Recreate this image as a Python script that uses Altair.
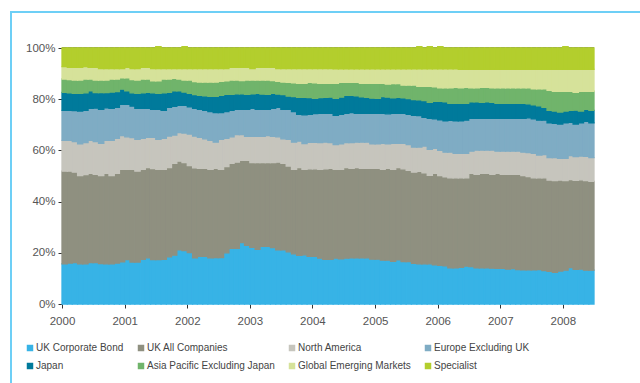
import altair as alt
import pandas as pd

series = ["UK Corporate Bond", "UK All Companies", "North America", "Europe Excluding UK",
          "Japan", "Asia Pacific Excluding Japan", "Global Emerging Markets", "Specialist"]
colors = ["#37B3E6", "#8F9080", "#C6C5BD", "#7FACC4", "#007A9B", "#70B46B", "#D6E29A", "#B3CE2D"]

# cumulative top edge (%) of each band, monthly Jan 2000 - Jun 2008
bond_top = [15.7, 16.0, 16.2, 15.7, 15.7, 16.2, 16.2, 15.8, 15.7, 15.7,
            16.0, 16.5, 17.3, 16.4, 16.4, 17.4, 18.0, 17.3, 17.3, 17.4,
            18.4, 19.1, 21.2, 20.9, 20.1, 18.0, 18.6, 18.6, 18.0, 18.1,
            18.1, 20.0, 21.7, 21.7, 24.0, 22.9, 22.1, 21.3, 22.5, 22.5,
            22.0, 21.2, 21.2, 20.4, 19.6, 19.0, 19.2, 18.6, 18.6, 17.9,
            17.4, 17.4, 17.9, 17.6, 17.9, 18.0, 18.0, 18.0, 18.0, 17.5,
            17.5, 17.1, 17.1, 16.7, 17.2, 16.6, 16.6, 15.9, 15.7, 15.7,
            15.7, 15.3, 15.1, 14.9, 14.1, 14.1, 14.3, 14.8, 14.6, 14.1,
            14.1, 14.1, 14.0, 13.9, 13.9, 13.6, 13.8, 13.4, 13.3, 13.3,
            13.3, 13.4, 13.0, 12.8, 12.4, 12.9, 13.2, 14.2, 13.5, 13.6,
            13.2, 13.2]
ukall_top = [51.9, 51.9, 51.5, 50.2, 50.5, 51.0, 50.6, 50.2, 51.0, 50.2,
             51.0, 52.6, 52.6, 52.6, 51.9, 52.6, 53.3, 52.9, 52.6, 52.6,
             53.3, 54.9, 55.8, 55.2, 54.1, 53.2, 53.0, 53.0, 52.6, 53.0,
             52.6, 53.7, 54.9, 55.4, 56.1, 56.1, 55.2, 55.2, 55.2, 55.2,
             55.2, 55.4, 54.9, 53.9, 52.6, 53.3, 52.6, 52.8, 52.8, 52.6,
             52.8, 53.0, 52.6, 52.6, 53.3, 53.0, 53.3, 53.0, 53.0, 53.0,
             53.0, 52.6, 53.0, 52.6, 53.3, 52.8, 52.2, 51.5, 51.8, 51.2,
             50.3, 51.0, 50.2, 49.7, 49.3, 49.3, 49.3, 49.3, 51.0, 50.6,
             51.0, 51.0, 50.6, 51.0, 50.6, 50.6, 50.6, 50.6, 50.2, 49.8,
             49.3, 49.3, 49.3, 48.4, 48.2, 48.4, 48.2, 48.6, 48.3, 48.5,
             48.2, 47.9]
na_top = [63.9, 63.9, 63.4, 62.6, 63.0, 63.9, 63.4, 62.8, 63.9, 63.9,
          64.7, 65.8, 65.3, 65.0, 64.3, 64.7, 65.1, 65.1, 64.3, 64.7,
          65.6, 66.0, 67.0, 66.8, 66.4, 65.6, 65.1, 64.5, 63.9, 63.2,
          64.3, 64.7, 65.3, 66.2, 66.2, 65.5, 65.5, 65.5, 65.5, 65.8,
          65.5, 65.3, 64.5, 64.3, 63.2, 63.6, 62.7, 63.1, 63.1, 63.0,
          63.2, 63.0, 62.3, 62.6, 63.0, 63.0, 63.2, 63.2, 63.2, 62.6,
          62.6, 62.8, 62.6, 62.8, 62.8, 62.8, 62.3, 61.3, 61.3, 61.7,
          60.4, 60.8, 60.0, 59.3, 59.3, 58.8, 58.8, 58.8, 59.7, 60.1,
          60.1, 60.1, 60.1, 59.7, 59.7, 59.7, 59.7, 59.7, 59.3, 59.1,
          58.8, 58.2, 58.4, 57.2, 57.2, 56.9, 56.9, 58.0, 57.6, 57.8,
          57.7, 57.2]
eu_top = [75.6, 75.6, 75.5, 75.4, 75.6, 76.4, 76.5, 76.0, 76.6, 76.4,
          76.8, 78.0, 78.0, 77.3, 76.4, 76.4, 76.4, 76.0, 76.0, 75.6,
          76.8, 77.2, 77.6, 77.6, 77.0, 76.4, 76.0, 75.6, 75.2, 74.8,
          74.8, 75.2, 75.6, 76.0, 76.0, 76.0, 76.4, 76.0, 76.0, 76.0,
          76.4, 76.8, 76.0, 76.0, 75.2, 74.1, 73.9, 74.1, 74.4, 74.5,
          74.5, 74.5, 73.7, 74.1, 74.5, 74.8, 74.5, 74.5, 74.5, 74.5,
          74.5, 74.5, 74.3, 74.5, 74.5, 74.5, 74.1, 73.7, 73.6, 72.9,
          72.5, 72.3, 71.9, 71.5, 71.7, 71.5, 71.5, 71.8, 72.5, 72.5,
          72.5, 72.5, 72.5, 72.5, 72.5, 72.5, 72.5, 72.5, 72.5, 72.7,
          72.3, 71.8, 71.8, 70.8, 70.6, 70.3, 70.8, 71.0, 70.3, 70.8,
          71.3, 70.8]
jp_top = [82.7, 82.5, 82.3, 82.3, 82.5, 83.3, 82.6, 82.6, 82.6, 82.8,
          83.0, 83.9, 83.3, 82.5, 82.3, 82.5, 82.7, 82.5, 82.3, 82.5,
          82.7, 83.3, 83.3, 82.8, 82.3, 81.8, 81.5, 81.3, 81.1, 81.1,
          81.5, 81.9, 81.9, 82.1, 82.1, 81.9, 82.1, 82.3, 82.0, 81.9,
          82.3, 82.0, 81.8, 81.2, 81.0, 80.7, 80.7, 80.6, 80.3, 80.6,
          80.7, 80.8, 80.3, 80.8, 81.5, 81.5, 81.3, 80.9, 80.7, 80.4,
          80.3, 81.0, 80.8, 80.5, 80.7, 80.5, 80.2, 79.8, 79.7, 79.5,
          78.8, 79.2, 79.2, 79.0, 78.4, 78.4, 78.4, 78.4, 79.0, 79.0,
          78.8, 79.0, 78.8, 78.4, 78.4, 78.4, 78.4, 78.4, 78.4, 78.2,
          77.8, 77.4, 76.8, 75.6, 75.4, 75.0, 75.4, 75.6, 75.7, 75.4,
          76.0, 75.6]
asia_top = [87.9, 87.7, 87.5, 87.5, 87.9, 87.9, 87.5, 87.5, 87.5, 87.9,
            87.9, 88.3, 88.3, 87.7, 87.5, 87.9, 87.9, 87.2, 87.2, 87.9,
            87.9, 88.1, 87.9, 87.5, 87.5, 86.9, 86.7, 86.7, 86.7, 86.7,
            87.0, 87.2, 87.5, 87.5, 87.3, 87.5, 87.5, 87.5, 87.5, 87.5,
            87.3, 87.0, 86.7, 86.6, 86.4, 86.2, 86.2, 86.6, 86.4, 86.2,
            86.2, 86.2, 86.2, 86.6, 86.6, 86.6, 86.6, 86.2, 86.2, 86.2,
            86.2, 86.2, 85.9, 86.1, 86.1, 85.5, 85.5, 85.5, 85.0, 85.0,
            85.0, 84.8, 84.4, 84.4, 84.4, 84.6, 84.4, 84.6, 84.4, 84.4,
            84.6, 84.6, 84.4, 84.4, 84.4, 84.4, 84.4, 84.4, 84.4, 84.4,
            84.0, 84.0, 84.0, 83.5, 83.1, 83.1, 83.1, 83.1, 82.7, 83.1,
            83.1, 83.1]
gem_top = [92.7, 92.4, 92.4, 92.4, 92.7, 92.4, 92.4, 92.0, 92.0, 92.0,
           92.0, 92.0, 92.4, 92.0, 92.0, 92.4, 92.4, 92.0, 92.0, 92.0,
           92.0, 92.0, 92.0, 92.0, 92.0, 92.0, 92.0, 92.0, 92.0, 92.0,
           92.0, 92.0, 92.4, 92.4, 92.4, 92.4, 92.0, 92.4, 92.4, 92.4,
           92.4, 92.0, 92.0, 92.0, 92.0, 92.0, 92.0, 92.0, 92.0, 92.0,
           92.0, 92.0, 91.9, 91.9, 91.9, 91.9, 91.9, 91.9, 91.9, 91.9,
           91.9, 91.9, 91.9, 91.9, 91.9, 91.9, 91.9, 91.9, 91.9, 91.9,
           91.9, 91.9, 91.9, 91.9, 91.9, 91.9, 91.7, 91.7, 91.7, 91.7,
           91.7, 91.7, 91.7, 91.7, 91.7, 91.7, 91.7, 91.7, 91.7, 91.7,
           91.7, 91.7, 91.7, 91.7, 91.7, 91.7, 91.7, 91.7, 91.7, 91.7,
           91.7, 91.7]
spec_top = [100, 100, 100, 100, 100, 100, 100, 100, 100, 100,
            100, 100, 100, 100, 100, 100, 100, 100, 100.5, 100,
            100, 100, 100, 100.5, 100, 100, 100, 100, 100, 100,
            100, 100, 100, 100, 100, 100, 100, 100, 100, 100,
            100, 100, 100, 100, 100, 100, 100, 100, 100, 100,
            100, 100, 100, 100, 100, 100, 100, 100, 100, 100,
            100, 100, 100, 100, 100, 100, 100, 100, 100.5, 100,
            100.5, 100, 100.5, 100, 100, 100, 100, 100, 100, 100,
            100, 100, 100, 100, 100, 100, 100, 100, 100, 100,
            100, 100, 100, 100, 100, 100, 100.5, 100, 100, 100,
            100, 100]

tops = [bond_top, ukall_top, na_top, eu_top, jp_top, asia_top, gem_top, spec_top]
n = len(bond_top)
months = pd.date_range("2000-01-01", periods=n + 1, freq="MS")
rows = []
for i, name in enumerate(series):
    for m in range(n):
        rows.append({
            "series": name,
            "start": months[m].strftime("%Y-%m-%dT00:00:00"),
            "end": months[m + 1].strftime("%Y-%m-%dT00:00:00"),
            "lo": tops[i - 1][m] if i > 0 else 0,
            "hi": tops[i][m],
        })
df = pd.DataFrame(rows)

FONT = "Liberation Sans"
xdom = [alt.DateTime(year=2000, month=1, date=1), alt.DateTime(year=2008, month=7, date=1)]
xticks = [alt.DateTime(year=y, month=1, date=1) for y in range(2000, 2009)]

bands = alt.Chart(df).mark_rect(strokeWidth=1.3).encode(
    x=alt.X("start:T", scale=alt.Scale(domain=xdom),
            axis=alt.Axis(values=xticks, format="%Y", title=None, grid=False, domain=False,
                          tickSize=4, tickColor="#333", labelFont=FONT, labelFontSize=11.5,
                          labelColor="#555", labelPadding=7, labelFlush=False)),
    x2="end:T",
    y=alt.Y("lo:Q", scale=alt.Scale(domain=[0, 100], nice=False),
            axis=alt.Axis(values=[0, 20, 40, 60, 80, 100], labelExpr="datum.value + '%'",
                          title=None, grid=False, domain=False, tickSize=4, tickColor="#333",
                          labelFont=FONT, labelFontSize=11.5, labelColor="#555", labelPadding=3)),
    y2="hi:Q",
    color=alt.Color("series:N", scale=alt.Scale(domain=series, range=colors), sort=series,
                    legend=alt.Legend(title=None, orient="none", legendX=-37, legendY=295,
                                      direction="horizontal", columns=4, symbolType="square",
                                      symbolSize=42, symbolStrokeWidth=0, labelFont=FONT,
                                      labelFontSize=10, labelColor="#444", columnPadding=12,
                                      rowPadding=8, labelOffset=1, labelLimit=400)),
    stroke=alt.Stroke("series:N", scale=alt.Scale(domain=series, range=colors), legend=None),
)

one = pd.DataFrame({"k": [0]})
top_line = alt.Chart(one).mark_rule(color="#555", strokeWidth=1.6).encode(y=alt.datum(100))
frame_left = alt.Chart(one).mark_rule(color="#6DCFF6", strokeWidth=2).encode(
    x=alt.value(-51), y=alt.value(-36), y2=alt.value(400))
frame_top = alt.Chart(one).mark_rule(color="#6DCFF6", strokeWidth=2).encode(
    x=alt.value(-52), x2=alt.value(700), y=alt.value(-36))

chart = alt.layer(frame_left, frame_top, top_line, bands).properties(
    width=532, height=256,
    autosize=alt.AutoSizeParams(type="none"),
    padding={"left": 62, "top": 48, "right": 46, "bottom": 79},
    background="white",
).configure_view(stroke=None)

chart.save("out.html", embed_options={"renderer": "svg", "actions": False})
